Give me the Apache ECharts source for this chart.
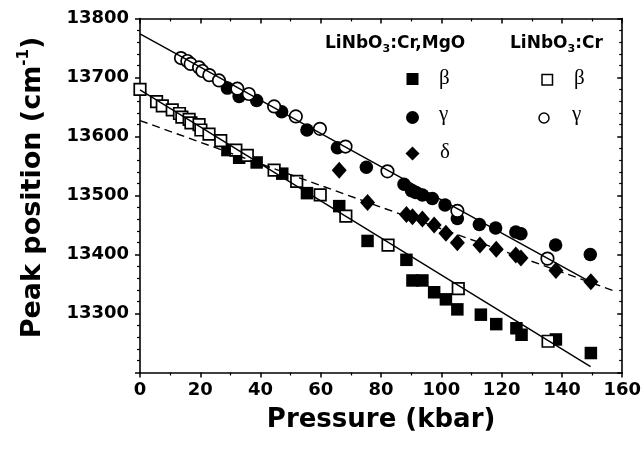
<!DOCTYPE html>
<html><head><meta charset="utf-8">
<script src="https://cdn.jsdelivr.net/npm/echarts@6/dist/echarts.min.js"></script>
<style>html,body{margin:0;padding:0;background:#fff}#c{width:644px;height:455px}</style>
</head><body><div id="c"></div>
<script>
// Pressure (kbar) vs peak position (cm^-1)
const mgoBeta = [[29.0,13577],[32.9,13564],[38.7,13556],[47.2,13537],[55.4,13504],[66.1,13482],[75.5,13423],[88.4,13391],[90.4,13356],[93.7,13356],[97.6,13336],[101.5,13324],[105.3,13307],[113.1,13298],[118.2,13282],[124.9,13275],[126.6,13264],[138.0,13256],[149.6,13233]];
const mgoGamma = [[29.0,13682],[32.9,13668],[38.7,13661],[47.0,13642],[55.4,13611],[65.5,13581],[75.1,13548],[87.6,13519],[90.1,13508],[91.5,13505],[93.7,13501],[97.0,13495],[101.2,13484],[105.3,13461],[112.6,13451],[118.0,13445],[124.7,13438],[126.4,13435],[137.9,13416],[149.4,13400]];
const mgoDelta = [[66.1,13543],[75.5,13488],[88.4,13468],[90.4,13464],[93.7,13460],[97.6,13450],[101.5,13436],[105.3,13420],[112.8,13416],[118.2,13409],[124.7,13399],[126.4,13394],[138.0,13373],[149.6,13354]];
const crBeta = [[0,13680],[5.5,13659],[7.4,13652],[10.7,13645],[13.1,13639],[13.9,13633],[16.3,13629],[16.9,13623],[19.6,13620],[20.2,13611],[22.9,13604],[26.8,13593],[31.8,13577],[35.6,13568],[44.5,13543],[52.0,13524],[59.8,13501],[68.3,13465],[82.3,13416],[105.6,13342],[135.4,13253]];
const crGamma = [[13.6,13733],[15.7,13728],[16.8,13723],[19.6,13717],[20.7,13711],[23.0,13704],[26.2,13695],[32.3,13681],[36.1,13672],[44.5,13651],[51.7,13634],[59.7,13613],[68.2,13583],[82.1,13541],[105.3,13474],[135.2,13393]];
const gammaFit = [[0,13774],[150,13352]];
const deltaFit = [[0,13627],[158,13337]];
const betaFit = [[0,13679],[149.5,13210]];
const xRange = [0,160], xStep = 20;
const yRange = [13200,13800], yStep = 100;
const hiddenYLabels = [13200];

const SANS = 'DejaVu Sans';
const SERIF = 'Liberation Serif';
const chart = echarts.init(document.getElementById('c'), null, {renderer:'canvas'});

function axisBase(extra){
  return Object.assign({
    type:'value', splitLine:{show:false},
    axisLine:{show:true, onZero:false, lineStyle:{color:'#000', width:1.6}},
  }, extra);
}
const tickOut = {show:true, inside:false, length:5, lineStyle:{color:'#000', width:1.5}};
const tickIn = {show:true, inside:true, length:5, lineStyle:{color:'#000', width:1.5}};
const minor = n => ({show:true, splitNumber:n, length:3, lineStyle:{color:'#000', width:1.2}});

const openStyle = {color:'#fff', borderColor:'#000', borderWidth:1.7, opacity:1};
const fillStyle = {color:'#000', opacity:1};

const option = {
  animation:false,
  backgroundColor:'#fff',
  grid:{left:140, right:20.5, top:18.5, bottom:82.5, containLabel:false},
  xAxis:[
    axisBase({min:xRange[0], max:xRange[1], interval:xStep, position:'bottom',
      axisTick:tickOut, minorTick:minor(2),
      axisLabel:{color:'#000', fontFamily:SANS, fontWeight:'bold', fontSize:18, margin:9},
      name:'Pressure (kbar)', nameLocation:'middle', nameGap:35,
      nameTextStyle:{color:'#000', fontFamily:SANS, fontWeight:'bold', fontSize:26}}),
    axisBase({min:xRange[0], max:xRange[1], interval:xStep, position:'top',
      axisTick:tickIn, minorTick:minor(2), axisLabel:{show:false}})
  ],
  yAxis:[
    axisBase({min:yRange[0], max:yRange[1], interval:yStep, position:'left',
      axisTick:tickOut, minorTick:minor(5),
      axisLabel:{color:'#000', fontFamily:SANS, fontWeight:'bold', fontSize:18, margin:11,
        formatter:v => hiddenYLabels.includes(v) ? '' : String(v)},
      name:'Peak position (cm{sup|-1})', nameLocation:'middle', nameGap:92, nameRotate:90,
      nameTextStyle:{color:'#000', fontFamily:SANS, fontWeight:'bold', fontSize:27, padding:[0,0,0,16],
        rich:{sup:{fontFamily:SANS, fontWeight:'bold', fontSize:15, padding:[0,0,16,0]}}}}),
    axisBase({min:yRange[0], max:yRange[1], interval:yStep, position:'right',
      axisTick:tickIn, minorTick:minor(5), axisLabel:{show:false}})
  ],
  series:[
    {type:'scatter', name:'MgO beta', data:mgoBeta, symbol:'rect', symbolSize:12.5, itemStyle:fillStyle, clip:false, z:2},
    {type:'scatter', name:'MgO gamma', data:mgoGamma, symbol:'circle', symbolSize:13.5, itemStyle:fillStyle, clip:false, z:2},
    {type:'scatter', name:'MgO delta', data:mgoDelta, symbol:'diamond', symbolSize:[15,17], itemStyle:fillStyle, clip:false, z:2},
    {type:'scatter', name:'Cr beta', data:crBeta, symbol:'rect', symbolSize:11.5, itemStyle:openStyle, clip:false, z:3},
    {type:'scatter', name:'Cr gamma', data:crGamma, symbol:'circle', symbolSize:12.5, itemStyle:openStyle, clip:false, z:3},
    {type:'line', data:gammaFit, showSymbol:false, symbol:'none', lineStyle:{color:'#000', width:1.4}, z:5},
    {type:'line', data:deltaFit, showSymbol:false, symbol:'none', lineStyle:{color:'#000', width:1.4, type:[8,5]}, z:5},
    {type:'line', data:betaFit, showSymbol:false, symbol:'none', lineStyle:{color:'#000', width:1.4}, z:5}
  ],
  graphic:[
    {type:'text', x:325, y:44, style:{text:'{b|LiNbO}{s|3}{b|:Cr,MgO}', verticalAlign:'middle', fill:'#000',
      rich:{b:{fontFamily:SANS, fontWeight:'bold', fontSize:17, fill:'#000'}, s:{fontFamily:SANS, fontWeight:'bold', fontSize:11, fill:'#000', padding:[10,0,0,0]}}}},
    {type:'text', x:510, y:44, style:{text:'{b|LiNbO}{s|3}{b|:Cr}', verticalAlign:'middle', fill:'#000',
      rich:{b:{fontFamily:SANS, fontWeight:'bold', fontSize:17, fill:'#000'}, s:{fontFamily:SANS, fontWeight:'bold', fontSize:11, fill:'#000', padding:[10,0,0,0]}}}},
    {type:'rect', shape:{x:406.5, y:73, width:12, height:12}, style:{fill:'#000'}},
    {type:'circle', shape:{cx:412.5, cy:117.5, r:6.5}, style:{fill:'#000'}},
    {type:'polygon', shape:{points:[[412.5,146.5],[419.5,153.5],[412.5,160.5],[405.5,153.5]]}, style:{fill:'#000'}},
    {type:'rect', shape:{x:542, y:74.5, width:10.5, height:10.5}, style:{fill:'#fff', stroke:'#000', lineWidth:1.5}},
    {type:'circle', shape:{cx:544, cy:118, r:5}, style:{fill:'#fff', stroke:'#000', lineWidth:1.5}},
    {type:'text', x:439, y:78, style:{text:'β', fontFamily:SERIF, fontSize:21, fill:'#000', verticalAlign:'middle'}},
    {type:'text', x:439, y:114, style:{text:'γ', fontFamily:SERIF, fontSize:21, fill:'#000', verticalAlign:'middle'}},
    {type:'text', x:440, y:152, style:{text:'δ', fontFamily:SERIF, fontSize:21, fill:'#000', verticalAlign:'middle'}},
    {type:'text', x:574, y:78, style:{text:'β', fontFamily:SERIF, fontSize:21, fill:'#000', verticalAlign:'middle'}},
    {type:'text', x:572, y:114, style:{text:'γ', fontFamily:SERIF, fontSize:21, fill:'#000', verticalAlign:'middle'}}
  ]
};
chart.setOption(option);
</script></body></html>
